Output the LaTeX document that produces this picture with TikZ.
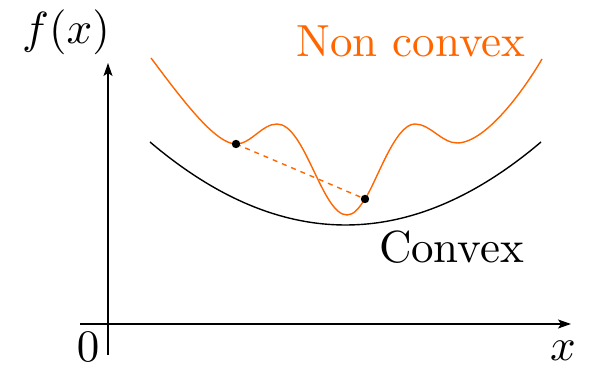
\documentclass[tikz,border=0pt]{standalone}
\usepackage{amsmath}
\usepackage{tikz}
\usetikzlibrary{
  arrows.meta,
  positioning
}
\definecolor{cvxorange}{RGB}{255,102,0}
\tikzset{
  cvxAxis/.style={
    -{Stealth[length=6.5pt,width=4.5pt,inset=1.5pt]},
    line width=0.7pt,
    draw=black
  },
  cvxCurve/.style={
    line width=0.7pt,
    draw=black
  },
  cvxNonCurve/.style={
    line width=0.7pt,
    draw=cvxorange
  },
  cvxChord/.style={
    dash pattern=on 2.5pt off 2.5pt,
    line width=0.7pt,
    draw=cvxorange
  },
  cvxDot/.style={
    circle,
    fill=black,
    inner sep=0pt,
    minimum size=4.2pt
  },
  cvxLabel/.style={
    scale=2.25,
    transform shape,
    inner sep=0pt,
    anchor=base
  }
}

\begin{document}
\begin{tikzpicture}[x=0.5pt, y=0.5pt]
  \useasboundingbox (0,0) rectangle (590,368);

  % axes
  \coordinate (xstart) at (80,44);
  \coordinate (xend) at (571,44);
  \coordinate (ystart) at (108,13);
  \coordinate (yend) at (108,305);
  \draw[cvxAxis] (xstart) -- (xend);
  \draw[cvxAxis] (ystart) -- (yend);

  \node[cvxLabel] (fx) at (66,324) {$f(x)$};
  \node[cvxLabel] (zero) at (88,6) {$0$};
  \node[cvxLabel] (xlab) at (563,7) {$x$};

  % convex curve
  \draw[cvxCurve] plot[domain=150:541, samples=80]
    (\x, {143 + 83*((\x-345.5)/195.5)^2});
  \node[cvxLabel] (convex) at (451.5,105) {Convex};

  % non convex curve
  \coordinate (start) at (151,310);
  \coordinate (left) at (236,224);
  \coordinate (bump1) at (277,244);
  \coordinate (valley) at (347,153);
  \coordinate (right) at (365,169);
  \coordinate (bump2) at (415,244);
  \coordinate (dip) at (457,225);
  \coordinate (end) at (542,309);
  \draw[cvxNonCurve] (start)
    .. controls (181,270) and (215,224) .. (left)
    .. controls (251,224) and (262,244) .. (bump1)
    .. controls (305,244) and (322,153) .. (valley)
    .. controls (354,153) and (359,160) .. (right)
    .. controls (377,187) and (395,244) .. (bump2)
    .. controls (430,244) and (442,225) .. (dip)
    .. controls (487,225) and (527,283) .. (end);
  \node[cvxLabel, text=cvxorange] (nonconvex) at (411,311) {Non convex};

  \draw[cvxChord] (left) -- (right);
  \node[cvxDot] at (left) {};
  \node[cvxDot] at (right) {};
\end{tikzpicture}
\end{document}
